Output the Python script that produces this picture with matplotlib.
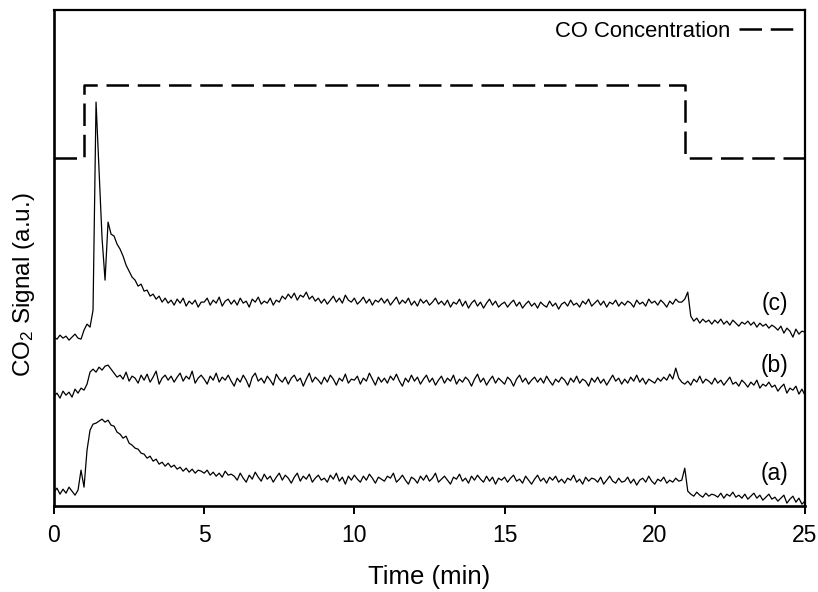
import matplotlib
matplotlib.use('Agg')

import numpy as np
import matplotlib.pyplot as plt

# time axis, one point every 0.1 min
time = np.round(np.arange(0, 251) * 0.1, 1)

# trace (c)
signal_c = [
    169, 167, 171, 168, 170, 166, 169, 172, 168, 167,
    176, 182, 179, 196, 404, 336, 268, 226, 284, 272,
    270, 262, 257, 250, 241, 235, 229, 226, 220, 222,
    215, 216, 210, 212, 207, 210, 204, 208, 203, 206,
    201, 207, 203, 208, 200, 205, 202, 206, 199, 204,
    204, 208, 201, 206, 203, 209, 200, 205, 207, 202,
    206, 201, 208, 203, 205, 199, 207, 204, 209, 202,
    205, 203, 208, 201, 206, 204, 210, 207, 212, 208,
    213, 206, 211, 209, 214, 207, 210, 205, 208, 203,
    207, 202, 206, 210, 204, 208, 203, 211, 206, 204,
    208, 202, 205, 209, 203, 207, 201, 206, 204, 208,
    203, 207, 201, 205, 209, 202, 206, 203, 208, 201,
    205, 200, 207, 203, 206, 201, 204, 208, 202, 205,
    201, 206, 199, 204, 202, 207, 200, 205, 198, 203,
    206, 200, 204, 198, 203, 207, 201, 205, 199, 202,
    204, 199, 203, 206, 200, 204, 198, 202, 205, 200,
    203, 198, 204, 201, 199, 205, 200, 203, 197, 202,
    204, 200, 206, 201, 203, 199, 205, 202, 207, 200,
    203, 206, 201, 205, 199, 204, 202, 206, 200, 204,
    201, 205, 203, 199, 206, 202, 204, 200, 207, 203,
    205, 201, 206, 203, 199, 205, 202, 207, 204, 204,
    207, 214, 190, 185, 188, 183, 187, 184, 186, 182,
    186, 183, 187, 182, 185, 181, 186, 183, 180, 184,
    182, 185, 181, 184, 179, 183, 180, 182, 178, 181,
    179, 176, 180, 173, 178, 175, 169, 177, 172, 175,
    174,
]

# trace (b)
signal_b = [
    110, 113, 108, 115, 111, 114, 109, 117, 113, 118,
    116, 122, 134, 137, 134, 139, 136, 140, 141, 137,
    133, 129, 131, 127, 134, 125, 130, 128, 123, 131,
    126, 132, 124, 129, 135, 122, 128, 131, 126, 130,
    124, 129, 133, 125, 130, 127, 135, 123, 128, 131,
    127, 122, 130, 126, 133, 124, 129, 126, 131, 125,
    120, 128, 124, 131, 126, 119, 129, 133, 125, 128,
    123, 130, 126, 121, 132, 127, 124, 129, 122, 128,
    131, 125, 128, 120, 127, 133, 124, 129, 126, 122,
    129, 124, 131, 127, 121, 128, 125, 132, 123, 127,
    126, 130, 122, 128, 125, 133, 127, 121, 129, 124,
    128, 123, 130, 126, 132, 125, 120, 128, 124, 131,
    125, 129, 122, 127, 131, 124, 128, 121, 126, 130,
    123, 128, 125, 131, 122, 127, 124, 129, 126, 120,
    127, 132, 124, 128, 121, 126, 130, 123, 128, 125,
    122, 129, 126, 120, 127, 131, 124, 128, 122, 126,
    129, 124, 128, 123, 130, 125, 121, 127, 124, 129,
    126, 121, 128, 124, 130, 123, 127, 125, 120, 128,
    124, 129, 123, 127, 121, 126, 131, 125, 128, 122,
    127, 123, 129, 125, 131, 124, 128, 122, 127, 125,
    123, 128, 125, 129, 126, 132, 127, 138, 128, 124,
    122, 125, 121, 127, 124, 130, 123, 127, 125, 122,
    128, 123, 126, 121, 125, 129, 122, 124, 120, 126,
    123, 119, 124, 121, 126, 118, 122, 120, 124, 119,
    121, 115, 119, 122, 113, 118, 116, 120, 112, 117,
    111,
]

# trace (a)
signal_a = [
    14, 18, 12, 17, 13, 19, 15, 11, 16, 36,
    19, 56, 76, 82, 83, 85, 87, 84, 86, 81,
    80, 74, 72, 68, 70, 63, 61, 58, 57, 53,
    52, 48, 50, 45, 47, 42, 44, 40, 43, 39,
    41, 37, 39, 35, 38, 34, 37, 33, 36, 35,
    33, 36, 31, 34, 30, 33, 29, 35, 31, 32,
    30, 26, 33, 28, 24, 31, 27, 34, 29, 25,
    32, 27, 30, 24, 29, 33, 26, 31, 28, 23,
    29, 33, 25, 30, 27, 32, 24, 28, 31, 26,
    28, 24, 31, 27, 33, 25, 29, 22, 30, 26,
    31, 27, 24, 30, 26, 32, 28, 23, 29, 27,
    25, 30, 28, 33, 24, 27, 31, 26, 22, 29,
    27, 23, 30, 26, 31, 25, 28, 33, 24, 27,
    30, 26, 22, 29, 27, 32, 25, 28, 23, 30,
    26, 31, 27, 24, 30, 25, 29, 22, 28, 26,
    29, 24, 28, 31, 25, 27, 23, 30, 26, 22,
    27, 31, 25, 28, 23, 29, 26, 30, 24, 27,
    23, 28, 26, 31, 24, 27, 22, 29, 25, 28,
    27, 24, 29, 22, 26, 30, 25, 23, 28, 24,
    25, 29, 23, 27, 21, 26, 28, 24, 30, 25,
    22, 27, 25, 29, 23, 26, 24, 28, 25, 26,
    38, 15, 12, 10, 14, 11, 9, 13, 10, 12,
    11, 9, 13, 8, 12, 10, 14, 9, 11, 8,
    12, 7, 10, 13, 8, 11, 6, 9, 12, 7,
    9, 5, 8, 11, 3, 7, 10, 4, 8, 2,
    5,
]

# CO concentration step
co_time = [0, 1, 1, 21, 21, 25]
co_level = [348, 348, 421, 421, 348, 348]

plt.rcParams['font.family'] = ['Liberation Sans', 'DejaVu Sans']
plt.rcParams['mathtext.default'] = 'regular'

fig = plt.figure(figsize=(8.18, 5.92), dpi=100)
ax = fig.add_axes([0.066, 0.145, 0.918, 0.838])

ax.plot(time, signal_c, color='black', linewidth=0.9)
ax.plot(time, signal_b, color='black', linewidth=0.9)
ax.plot(time, signal_a, color='black', linewidth=0.9)
ax.plot(co_time, co_level, color='black', linewidth=1.8, dashes=(9, 3.5),
        label='CO Concentration')

ax.text(24.0, 203, '(c)', fontsize=16.5, ha='center', va='center')
ax.text(24.0, 141, '(b)', fontsize=16.5, ha='center', va='center')
ax.text(24.0, 33, '(a)', fontsize=16.5, ha='center', va='center')

ax.set_xlim(0, 25)
ax.set_ylim(0, 496)
ax.set_xticks([0, 5, 10, 15, 20, 25])
ax.set_yticks([])
ax.tick_params(axis='x', direction='out', length=5.8, width=1.4,
               labelsize=16.5, pad=7)
for side in ['left', 'bottom']:
    ax.spines[side].set_linewidth(1.9)
for side in ['top', 'right']:
    ax.spines[side].set_linewidth(1.6)

ax.set_xlabel('Time (min)', fontsize=18.5, labelpad=13)
ax.set_ylabel('CO$_2$ Signal (a.u.)', fontsize=17.5)
ax.yaxis.set_label_coords(-0.022, 0.446)

ax.legend(loc='upper right', bbox_to_anchor=(0.984, 0.978), frameon=False,
          markerfirst=False, fontsize=15.8, handlelength=2.45,
          handletextpad=0.4, borderpad=0, borderaxespad=0)

plt.savefig('out.png', dpi=100)
plt.close(fig)
